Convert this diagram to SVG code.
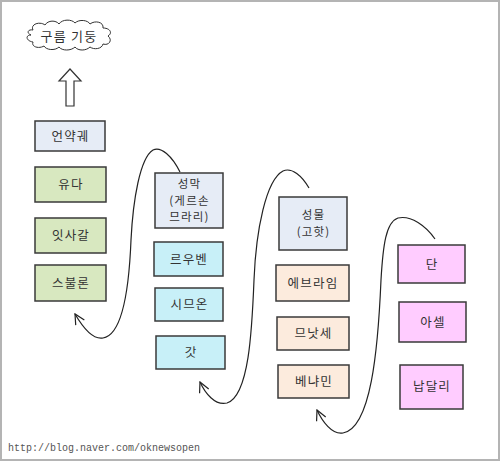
<svg xmlns="http://www.w3.org/2000/svg" width="502" height="462" viewBox="0 0 502 462">
<style>
.box{stroke:#3a3a3a;stroke-width:1.5}
.t{font-family:"Noto Sans CJK KR","Noto Sans",sans-serif;font-size:12.5px;letter-spacing:1.2px;fill:#333;text-anchor:middle}
.m{font-size:11.5px}
.blue{fill:#e6ecf6}.green{fill:#d8e8c0}.cyan{fill:#c8f0f8}.peach{fill:#fcebdd}.pink{fill:#ffccff}
.con{fill:none;stroke:#222;stroke-width:1.2}
</style>
<defs>
<marker id="ah" markerWidth="12" markerHeight="12" refX="11" refY="6" orient="auto" markerUnits="userSpaceOnUse">
<path d="M1,1 L11,6 L1,11" fill="none" stroke="#222" stroke-width="1.2"/>
</marker>
</defs>
<rect x="0" y="0" width="502" height="462" fill="#fff"/>
<rect x="1" y="1" width="498" height="459" fill="none" stroke="#b4b4b4" stroke-width="2"/>
<g id="cloud">
<path d="M33,30 C30,24 40,21 45,25 C48,20 56,20 59,24 C62,19 72,19 75,23 C79,19 88,20 90,24 C95,20 104,22 103,28 C110,28 113,33 108,36 C113,40 109,46 103,44 C102,49 94,50 90,47 C86,51 78,51 75,47 C71,51 62,51 59,47 C55,51 46,50 44,46 C39,49 31,47 33,42 C26,41 25,35 31,35 C26,33 28,29 33,30 Z" fill="#fff" stroke="#333" stroke-width="1"/>
<text class="t" x="69" y="41" style="font-size:13px">구름 기둥</text>
</g>
<g id="up-arrow">
<polygon points="70,69 81,81 74,81 74,106 66,106 66,81 59,81" fill="#fff" stroke="#333" stroke-width="1.2"/>
</g>
<g id="n-ark"><rect class="box blue" x="35" y="121" width="70" height="30"/><text class="t" x="70.5" y="140.5">언약궤</text></g>
<g id="n-judah"><rect class="box green" x="35" y="167" width="71" height="35"/><text class="t" x="71" y="189">유다</text></g>
<g id="n-issachar"><rect class="box green" x="35" y="218" width="71" height="35"/><text class="t" x="71" y="240">잇사갈</text></g>
<g id="n-zebulun"><rect class="box green" x="35" y="265" width="71" height="36"/><text class="t" x="71" y="288">스불론</text></g>
<g id="n-tabernacle"><rect class="box blue" x="155" y="173" width="68" height="55"/>
<text class="t m" x="189.5" y="188">성막</text><text class="t m" x="189.5" y="204.5">(게르손</text><text class="t m" x="189.5" y="221">므라리)</text></g>
<g id="n-reuben"><rect class="box cyan" x="154" y="242" width="69" height="34"/><text class="t" x="189" y="263.5">르우벤</text></g>
<g id="n-simeon"><rect class="box cyan" x="155" y="288" width="68" height="33"/><text class="t" x="189.5" y="309">시므온</text></g>
<g id="n-gad"><rect class="box cyan" x="156" y="336" width="69" height="33"/><text class="t" x="191" y="357">갓</text></g>
<g id="n-holy"><rect class="box blue" x="279" y="197" width="68" height="53"/>
<text class="t m" x="313.5" y="219">성물</text><text class="t m" x="313.5" y="236">(고핫)</text></g>
<g id="n-ephraim"><rect class="box peach" x="276" y="265" width="73" height="36"/><text class="t" x="313" y="288">에브라임</text></g>
<g id="n-manasseh"><rect class="box peach" x="277" y="317" width="72" height="33"/><text class="t" x="313.5" y="338">므낫세</text></g>
<g id="n-benjamin"><rect class="box peach" x="278" y="365" width="71" height="33"/><text class="t" x="314" y="386">베냐민</text></g>
<g id="n-dan"><rect class="box pink" x="398" y="245" width="67" height="38"/><text class="t" x="432" y="269">단</text></g>
<g id="n-asher"><rect class="box pink" x="399" y="302" width="67" height="40"/><text class="t" x="433" y="327">아셀</text></g>
<g id="n-naphtali"><rect class="box pink" x="400" y="365" width="63" height="44"/><text class="t" x="432" y="391">납달리</text></g>
<g id="connectors">
<path class="con" marker-end="url(#ah)" d="M180,172 C172,156 161,146 153,150 C140,158 133,200 131,240 C129,290 122,335 103,338 C92,340 82,326 75,314"/>
<path class="con" marker-end="url(#ah)" d="M309,188 C302,176 292,167 283,171 C266,180 256,230 254,280 C252,330 249,396 227,403 C215,406 205,393 200,382"/>
<path class="con" marker-end="url(#ah)" d="M435,239 C426,226 411,215 398,218 C386,222 383,245 381,280 C378,350 371,428 343,433 C332,435 322,421 317,410"/>
</g>
<text x="8" y="451" font-family="Liberation Mono, monospace" font-size="10" fill="#555">http://blog.naver.com/oknewsopen</text>
</svg>
